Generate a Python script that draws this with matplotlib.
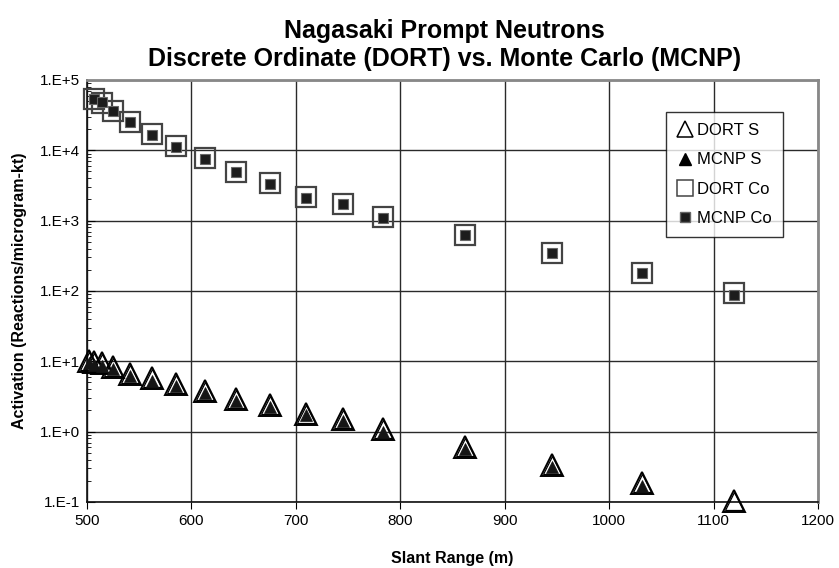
import numpy as np
import matplotlib.pyplot as plt
from matplotlib.lines import Line2D
from matplotlib.ticker import FixedLocator, FuncFormatter, NullFormatter

# slant range (m)
rng = [502, 507, 514, 525, 541, 562, 585, 613, 643, 675, 710, 745, 783, 862, 945, 1031, 1120]

dort_co = [53000, 47000, 36500, 25500, 17000, 11600, 7700, 4950, 3400, 2150, 1720, 1120, 630, 350, 182, 95]
mcnp_co = [54000, 48000, 36000, 25000, 16500, 11300, 7600, 4900, 3350, 2100, 1700, 1090, 620, 345, 178, 88]
rng_co = rng[1:]

dort_s = [10.2, 9.9, 9.4, 8.3, 6.7, 5.8, 4.8, 3.75, 2.95, 2.4, 1.8, 1.5, 1.08, 0.60, 0.34, 0.185, 0.102]
rng_mcnp_s = rng[:-1]
mcnp_s = [9.4, 9.0, 8.6, 7.7, 6.2, 5.3, 4.4, 3.5, 2.75, 2.25, 1.7, 1.4, 1.0, 0.56, 0.315, 0.17]

x_ticks = [500, 600, 700, 800, 900, 1000, 1100, 1200]
y_ticks = [1e-1, 1e0, 1e1, 1e2, 1e3, 1e4, 1e5]

plt.rcParams['font.family'] = ['Liberation Sans', 'DejaVu Sans']

fig = plt.figure(figsize=(8.39, 5.68), dpi=100)
ax = fig.add_axes([0.1037, 0.1162, 0.8713, 0.743])

ax.set_xlim(500, 1200)
ax.set_yscale('log')
ax.set_ylim(0.1, 1e5)

# DORT S: open triangle drawn with a double outline
ax.plot(rng, dort_s, linestyle='none', marker='^', markersize=16, markerfacecolor='none',
        markeredgecolor='black', markeredgewidth=1.4, clip_on=False, zorder=3)
ax.plot(rng, dort_s, linestyle='none', marker='^', markersize=12.5, markerfacecolor='none',
        markeredgecolor='black', markeredgewidth=0.9, clip_on=False, zorder=3)
ax.plot(rng_mcnp_s, mcnp_s, linestyle='none', marker='^', markersize=8, markerfacecolor='#151515',
        markeredgecolor='#151515', markeredgewidth=0.5, clip_on=False, zorder=4)

ax.plot(rng_co, dort_co, linestyle='none', marker='s', markersize=15, markerfacecolor='none',
        markeredgecolor='#444444', markeredgewidth=1.6, clip_on=False, zorder=3)
ax.plot(rng_co, mcnp_co, linestyle='none', marker='s', markersize=7, markerfacecolor='#1c1c1c',
        markeredgecolor='#666666', markeredgewidth=0.8, clip_on=False, zorder=4)

# axes style
ax.xaxis.set_major_locator(FixedLocator(x_ticks))
ax.yaxis.set_major_locator(FixedLocator(y_ticks))
minor = [m * d for d in y_ticks[:-1] for m in range(2, 10)]
ax.yaxis.set_minor_locator(FixedLocator(minor))
ax.yaxis.set_minor_formatter(NullFormatter())
ax.yaxis.set_major_formatter(FuncFormatter(lambda v, p: "1.E%+d" % int(round(np.log10(v)))))

ax.grid(True, which='major', color='#2a2a2a', linewidth=1.0)
ax.tick_params(axis='x', which='major', direction='out', length=5, labelsize=11, pad=4)
ax.tick_params(axis='y', which='major', direction='in', length=6, labelsize=11, pad=5)
ax.tick_params(axis='y', which='minor', direction='in', length=3)
for s in ['top', 'right']:
    ax.spines[s].set_color('#888888')
    ax.spines[s].set_linewidth(2)
for s in ['left', 'bottom']:
    ax.spines[s].set_color('#111111')
    ax.spines[s].set_linewidth(1.2)

ax.set_xlabel('Slant Range (m)', fontsize=11.5, fontweight='bold', labelpad=16)
ax.set_ylabel('Activation (Reactions/microgram-kt)', fontsize=11.5, fontweight='bold', labelpad=9)
fig.suptitle('Nagasaki Prompt Neutrons\nDiscrete Ordinate (DORT) vs. Monte Carlo (MCNP)',
             x=0.53, fontsize=18, fontweight='bold', y=0.967, linespacing=1.22)

handles = [
    Line2D([], [], linestyle='none', marker='^', markersize=11, markerfacecolor='none',
           markeredgecolor='black', markeredgewidth=1.1),
    Line2D([], [], linestyle='none', marker='^', markersize=8, markerfacecolor='black',
           markeredgecolor='black'),
    Line2D([], [], linestyle='none', marker='s', markersize=11, markerfacecolor='none',
           markeredgecolor='#444444', markeredgewidth=1.1),
    Line2D([], [], linestyle='none', marker='s', markersize=7, markerfacecolor='#1c1c1c',
           markeredgecolor='#666666'),
]
leg = ax.legend(handles, ['DORT S', 'MCNP S', 'DORT Co', 'MCNP Co'], loc='upper right',
                bbox_to_anchor=(0.9525, 0.925), fontsize=12, frameon=True, fancybox=False,
                edgecolor='black', handlelength=0.9, handletextpad=0.25, labelspacing=0.85,
                borderpad=0.7, borderaxespad=0)
leg.get_frame().set_linewidth(1.0)
leg.set_zorder(5)

fig.savefig('out.png', dpi=100)
